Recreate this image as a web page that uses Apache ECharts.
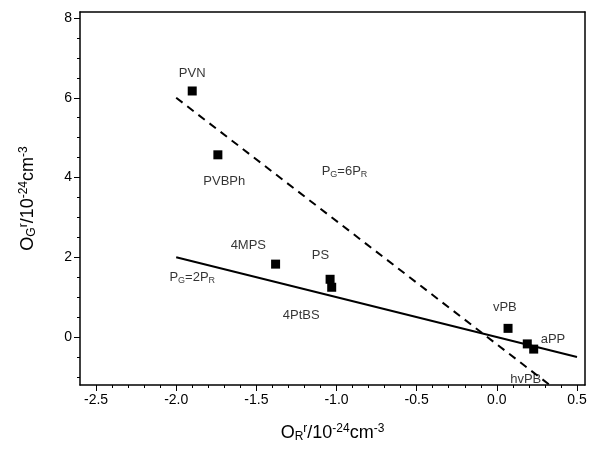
<!DOCTYPE html><html><head><meta charset="utf-8">
<script src="https://cdn.jsdelivr.net/npm/echarts@6/dist/echarts.min.js"></script>
<style>body{margin:0}#c{width:592px;height:450px}</style></head><body><div id="c"></div>
<script>
const names=['PVN','PVBPh','4MPS','PS','4PtBS','vPB','hvPB','aPP'];
const xs=[-1.9,-1.74,-1.38,-1.04,-1.03,0.07,0.19,0.23];
const ys=[6.17,4.57,1.83,1.45,1.25,0.22,-0.17,-0.3];
const labelPos=[[-1.9,6.6],[-1.7,3.9],[-1.55,2.3],[-1.1,2.05],[-1.22,0.55],[0.05,0.75],[0.18,-1.05],[0.35,-0.05]];
const xTicks=[-2.5,-2,-1.5,-1,-0.5,0,0.5];
const xMinor=[-2.4,-2.3,-2.2,-2.1,-1.9,-1.8,-1.7,-1.6,-1.4,-1.3,-1.2,-1.1,-0.9,-0.8,-0.7,-0.6,-0.4,-0.3,-0.2,-0.1,0.1,0.2,0.3,0.4];
const yTicks=[0,2,4,6,8];
const yMinor=[-1,-0.5,0.5,1,1.5,2.5,3,3.5,4.5,5,5.5,6.5,7,7.5];
const dashLine=[[-2,6],[0.33,-1.2]];
const solidLine=[[-2,2],[0.5,-0.5]];
const ch=echarts.init(document.getElementById('c'));
const F='Liberation Sans';
const rich={b:{fontSize:18,fontFamily:F,color:'#000'},s:{fontSize:12,fontFamily:F,color:'#000',verticalAlign:'bottom',padding:[8,0,0,0]},p:{fontSize:12,fontFamily:F,color:'#000',verticalAlign:'top',padding:[0,0,8,0]}};
const line={onZero:false,lineStyle:{color:'#000',width:1.5}};
const noLine={show:false,onZero:false};
ch.setOption({
 animation:false,
 grid:{left:80,right:7,top:12,bottom:65},
 xAxis:[{type:'value',min:-2.6,max:0.55,
  axisLabel:{color:'#000',fontSize:14,fontFamily:F,customValues:xTicks,formatter:v=>v.toFixed(1)},
  axisLine:line,axisTick:{customValues:xTicks,length:6,lineStyle:{color:'#000'}},splitLine:{show:false},
  name:'{b|O}{s|R}{p|r}{b|/10}{p|-24}{b|cm}{p|-3}',nameLocation:'middle',nameGap:38,nameTextStyle:{rich}},
  {type:'value',min:-2.6,max:0.55,position:'bottom',axisLine:noLine,axisLabel:{show:false},splitLine:{show:false},
   axisTick:{customValues:xMinor,length:3,lineStyle:{color:'#000'}}},
  {type:'value',min:-2.6,max:0.55,position:'top',axisLine:line,axisLabel:{show:false},axisTick:{show:false},splitLine:{show:false}}],
 yAxis:[{type:'value',min:-1.2,max:8.15,
  axisLabel:{color:'#000',fontSize:14,fontFamily:F,customValues:yTicks},
  axisLine:line,axisTick:{customValues:yTicks,length:6,lineStyle:{color:'#000'}},splitLine:{show:false},
  name:'{b|O}{s|G}{p|r}{b|/10}{p|-24}{b|cm}{p|-3}',nameLocation:'middle',nameGap:42,nameTextStyle:{rich}},
  {type:'value',min:-1.2,max:8.15,position:'left',axisLine:noLine,axisLabel:{show:false},splitLine:{show:false},
   axisTick:{customValues:yMinor,length:3,lineStyle:{color:'#000'}}},
  {type:'value',min:-1.2,max:8.15,position:'right',axisLine:line,axisLabel:{show:false},axisTick:{show:false},splitLine:{show:false}}],
 series:[
  {type:'line',data:dashLine,symbol:'none',lineStyle:{color:'#000',width:2,type:[8,6]}},
  {type:'line',data:solidLine,symbol:'none',lineStyle:{color:'#000',width:2}},
  {type:'scatter',data:xs.map((x,i)=>[x,ys[i]]),symbol:'rect',symbolSize:9,itemStyle:{color:'#000',opacity:1}},
  {type:'scatter',symbolSize:0,data:names.map((n,i)=>({value:labelPos[i],name:n})),
   label:{show:true,formatter:p=>p.name,color:'#000',fontSize:13,fontFamily:F}},
  {type:'scatter',symbolSize:0,data:[{value:[-0.95,4.15]},{value:[-1.9,1.5]}],
   label:{show:true,color:'#000',fontFamily:F,formatter:p=>p.dataIndex==0?'{a|P}{s|G}{a|=6P}{s|R}':'{a|P}{s|G}{a|=2P}{s|R}',
    rich:{a:{fontSize:13,fontFamily:F,color:'#000'},s:{fontSize:9,fontFamily:F,color:'#000',verticalAlign:'bottom',padding:[6,0,0,0]}}}}
 ]
});
</script></body></html>
